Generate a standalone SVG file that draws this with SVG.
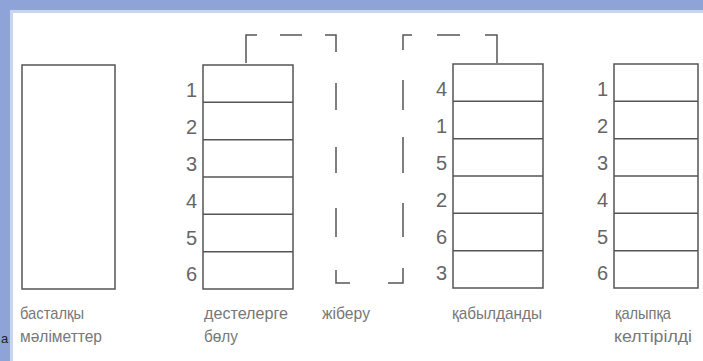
<svg xmlns="http://www.w3.org/2000/svg" width="703" height="361" viewBox="0 0 703 361">
<style>
.box{fill:#fff;stroke:#555;stroke-width:1.5}
.div{stroke:#555;stroke-width:1.5}
.con{fill:none;stroke:#555;stroke-width:1.5}
.num{font-family:"Liberation Sans",Arial,sans-serif;font-size:20px;fill:#666;text-anchor:end}
.lbl{font-family:"Liberation Sans",Arial,sans-serif;font-size:17px;fill:#777}
</style>
<rect x="0" y="0" width="703" height="361" fill="#fff"/>
<rect x="0" y="0" width="703" height="10" fill="#8ea4d8"/>
<rect x="0" y="10" width="703" height="3" fill="#c9d5ef"/>
<rect x="0" y="0" width="10" height="361" fill="#8ea4d8"/>
<rect x="10" y="10" width="3" height="351" fill="#c9d5ef"/>
<text x="1" y="343" font-family="Liberation Sans,Arial,sans-serif" font-size="13" fill="#222">а</text>

<g id="connectors">
<path class="con" d="M246,63 V35 H257"/>
<path class="con" d="M280,35 H302"/>
<path class="con" d="M325,35 H336 V52"/>
<path class="con" d="M336,83 V110"/>
<path class="con" d="M336,147 V173"/>
<path class="con" d="M336,208 V237"/>
<path class="con" d="M336,270 V283 H350"/>
<path class="con" d="M388,283 H403 V268"/>
<path class="con" d="M403,203 V237"/>
<path class="con" d="M403,137 V173"/>
<path class="con" d="M403,80 V110"/>
<path class="con" d="M403,50 V35 H412"/>
<path class="con" d="M437,35 H460"/>
<path class="con" d="M485,35 H497 V63"/>
</g>

<g id="node-source">
<rect class="box" x="22" y="65" width="93" height="224"/>
<text class="lbl" x="20" y="319" textLength="64" lengthAdjust="spacingAndGlyphs">басталқы</text>
<text class="lbl" x="20" y="342" textLength="82" lengthAdjust="spacingAndGlyphs">мәліметтер</text>
</g>

<g id="node-split">
<rect class="box" x="203" y="65" width="90" height="224"/>
<line class="div" x1="203" y1="102.3" x2="293" y2="102.3"/>
<line class="div" x1="203" y1="139.7" x2="293" y2="139.7"/>
<line class="div" x1="203" y1="177" x2="293" y2="177"/>
<line class="div" x1="203" y1="214.3" x2="293" y2="214.3"/>
<line class="div" x1="203" y1="251.7" x2="293" y2="251.7"/>
<text class="num" x="197" y="97">1</text>
<text class="num" x="197" y="134">2</text>
<text class="num" x="197" y="171">3</text>
<text class="num" x="197" y="208">4</text>
<text class="num" x="197" y="245">5</text>
<text class="num" x="197" y="281">6</text>
<text class="lbl" x="204" y="319" textLength="84" lengthAdjust="spacingAndGlyphs">дестелерге</text>
<text class="lbl" x="204" y="342" textLength="34" lengthAdjust="spacingAndGlyphs">бөлу</text>
</g>

<g id="node-send">
<text class="lbl" x="322" y="319" textLength="48" lengthAdjust="spacingAndGlyphs">жіберу</text>
</g>

<g id="node-received">
<rect class="box" x="453" y="64" width="90" height="224"/>
<line class="div" x1="453" y1="101.3" x2="543" y2="101.3"/>
<line class="div" x1="453" y1="138.7" x2="543" y2="138.7"/>
<line class="div" x1="453" y1="176" x2="543" y2="176"/>
<line class="div" x1="453" y1="213.3" x2="543" y2="213.3"/>
<line class="div" x1="453" y1="250.7" x2="543" y2="250.7"/>
<text class="num" x="447" y="96">4</text>
<text class="num" x="447" y="133">1</text>
<text class="num" x="447" y="170">5</text>
<text class="num" x="447" y="207">2</text>
<text class="num" x="447" y="244">6</text>
<text class="num" x="447" y="280">3</text>
<text class="lbl" x="452" y="319" textLength="90" lengthAdjust="spacingAndGlyphs">қабылданды</text>
</g>

<g id="node-normalized">
<rect class="box" x="614" y="64" width="84" height="224"/>
<line class="div" x1="614" y1="101.3" x2="698" y2="101.3"/>
<line class="div" x1="614" y1="138.7" x2="698" y2="138.7"/>
<line class="div" x1="614" y1="176" x2="698" y2="176"/>
<line class="div" x1="614" y1="213.3" x2="698" y2="213.3"/>
<line class="div" x1="614" y1="250.7" x2="698" y2="250.7"/>
<text class="num" x="608" y="96">1</text>
<text class="num" x="608" y="133">2</text>
<text class="num" x="608" y="170">3</text>
<text class="num" x="608" y="207">4</text>
<text class="num" x="608" y="244">5</text>
<text class="num" x="608" y="280">6</text>
<text class="lbl" x="615" y="319" textLength="56" lengthAdjust="spacingAndGlyphs">қалыпқа</text>
<text class="lbl" x="614" y="342" textLength="78" lengthAdjust="spacingAndGlyphs">келтірілді</text>
</g>
</svg>
